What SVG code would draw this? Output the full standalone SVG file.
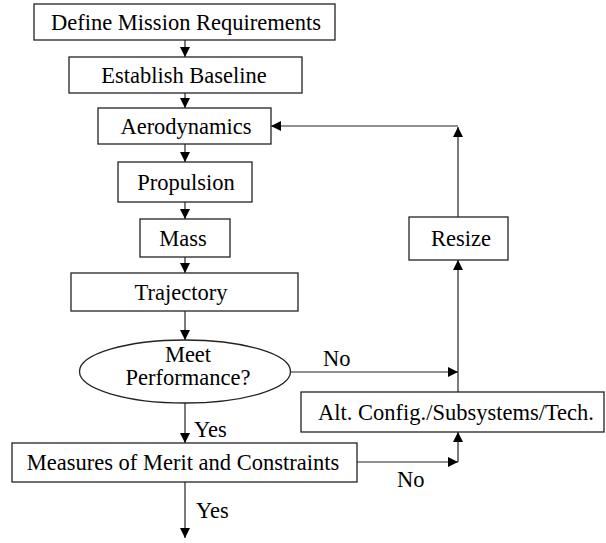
<svg xmlns="http://www.w3.org/2000/svg" width="606" height="543" viewBox="0 0 606 543">
<defs>
<marker id="ah" viewBox="0 0 10 10" refX="10" refY="5" markerWidth="10" markerHeight="10" markerUnits="userSpaceOnUse" orient="auto">
<path d="M0,0 L10,5 L0,10 z" fill="#000"/>
</marker>
<style>
.box{fill:#fff;stroke:#222;stroke-width:1.3}
.t{font-family:"Liberation Serif","Times New Roman",serif;font-size:22.5px;fill:#000;text-anchor:middle}
.l{font-family:"Liberation Serif","Times New Roman",serif;font-size:22.5px;fill:#000}
.c{fill:none;stroke:#222;stroke-width:1.2;marker-end:url(#ah)}
.p{fill:none;stroke:#222;stroke-width:1.2}
</style>
</defs>
<rect width="606" height="543" fill="#fff"/>
<g id="connectors">
<line class="c" x1="185" y1="40" x2="185" y2="57"/>
<line class="c" x1="185" y1="93" x2="185" y2="108"/>
<line class="c" x1="185" y1="144" x2="185" y2="162"/>
<line class="c" x1="185" y1="202" x2="185" y2="219"/>
<line class="c" x1="185" y1="257" x2="185" y2="273"/>
<line class="c" x1="185" y1="311" x2="185" y2="340"/>
<line class="c" x1="185" y1="403" x2="185" y2="443"/>
<line class="c" x1="185" y1="482" x2="185" y2="538"/>
<line class="c" x1="290" y1="372" x2="458" y2="372"/>
<line class="c" x1="458" y1="392" x2="458" y2="260"/>
<line class="c" x1="357" y1="462" x2="458" y2="462"/>
<line class="c" x1="458" y1="462" x2="458" y2="432"/>
<line class="c" x1="458" y1="217" x2="458" y2="127"/>
<line class="c" x1="458" y1="126" x2="271" y2="126"/>
</g>
<g id="n-define"><rect class="box" x="34" y="4" width="301" height="36"/><text class="t" x="186" y="30">Define Mission Requirements</text></g>
<g id="n-baseline"><rect class="box" x="69" y="57" width="233" height="36"/><text class="t" x="184" y="83">Establish Baseline</text></g>
<g id="n-aero"><rect class="box" x="98" y="108" width="173" height="36"/><text class="t" x="186" y="134">Aerodynamics</text></g>
<g id="n-prop"><rect class="box" x="118" y="162" width="134" height="40"/><text class="t" x="186" y="190">Propulsion</text></g>
<g id="n-mass"><rect class="box" x="140" y="219" width="90" height="38"/><text class="t" x="183" y="246">Mass</text></g>
<g id="n-traj"><rect class="box" x="71" y="273" width="227" height="38"/><text class="t" x="181" y="300">Trajectory</text></g>
<g id="n-meet"><ellipse class="box" cx="185" cy="371.5" rx="105.5" ry="31.5"/><text class="t" x="188" y="362">Meet</text><text class="t" x="188" y="385">Performance?</text></g>
<g id="n-mom"><rect class="box" x="12" y="443" width="345" height="39"/><text class="t" x="183" y="470">Measures of Merit and Constraints</text></g>
<g id="n-alt"><rect class="box" x="301" y="392" width="303" height="40"/><text class="t" x="456" y="420">Alt. Config./Subsystems/Tech.</text></g>
<g id="n-resize"><rect class="box" x="409" y="217" width="99" height="43"/><text class="t" x="461" y="246">Resize</text></g>
<g id="labels">
<text class="l" x="323" y="366">No</text>
<text class="l" x="397" y="487">No</text>
<text class="l" x="194" y="437">Yes</text>
<text class="l" x="196" y="518">Yes</text>
</g>
</svg>
